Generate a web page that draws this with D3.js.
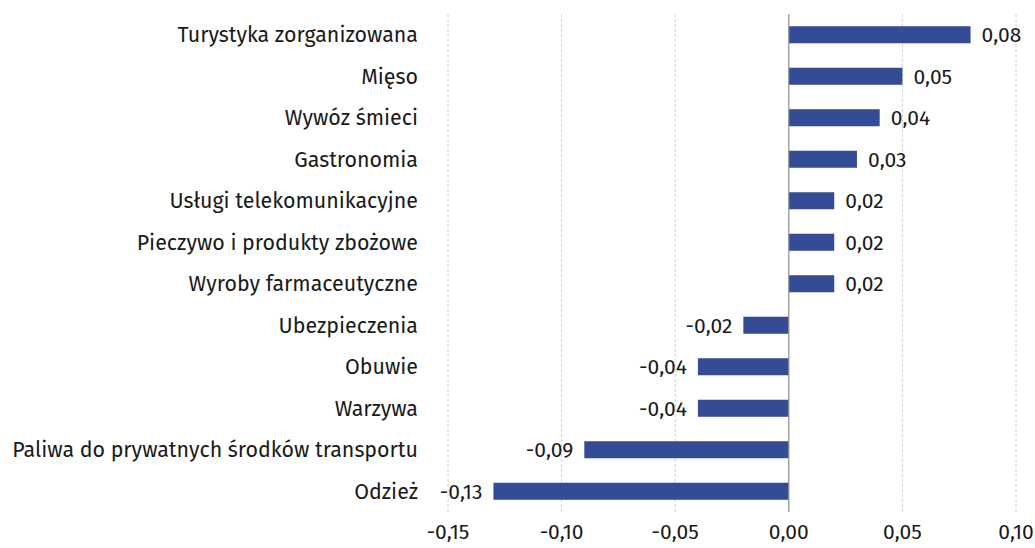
<!DOCTYPE html>
<html>
<head>
<meta charset="utf-8">
<script src="https://cdn.jsdelivr.net/npm/d3@7"></script>
<style>
  body { margin: 0; background: #fff; }
  text { font-family: "Fira Sans", "Noto Sans", sans-serif; fill: #1a1a1a; }
</style>
</head>
<body>
<div id="chart"></div>
<script>
const categories = [
  "Turystyka zorganizowana", "Mięso", "Wywóz śmieci", "Gastronomia",
  "Usługi telekomunikacyjne", "Pieczywo i produkty zbożowe", "Wyroby farmaceutyczne",
  "Ubezpieczenia", "Obuwie", "Warzywa", "Paliwa do prywatnych środków transportu", "Odzież"
];
const values = [0.08, 0.05, 0.04, 0.03, 0.02, 0.02, 0.02, -0.02, -0.04, -0.04, -0.09, -0.13];
const ticks = [-0.15, -0.10, -0.05, 0.00, 0.05, 0.10];

const width = 1035, height = 548;
const margin = {top: 14, right: 19, bottom: 36, left: 448};

const fmt = d3.format(".2f");
const plFmt = v => fmt(v).replace(".", ",").replace("\u2212", "-");

let svg = d3.select("#chart").append("svg")
    .attr("width", width)
    .attr("height", height);

let x = d3.scaleLinear()
    .domain([-0.15, 0.10])
    .range([margin.left, width - margin.right]);

let y = d3.scaleBand()
    .domain(categories)
    .range([margin.top, height - margin.bottom])
    .paddingInner(0.59)
    .paddingOuter(0.295);

// gridlines
svg.append("g").selectAll("line")
    .data(ticks.filter(t => t !== 0))
    .enter().append("line")
    .attr("x1", d => x(d)).attr("x2", d => x(d))
    .attr("y1", margin.top).attr("y2", height - margin.bottom)
    .attr("stroke", "#d0d0d0")
    .attr("stroke-dasharray", "3,2")
    .attr("stroke-width", 1);

// bars
svg.append("g").selectAll("rect")
    .data(values)
    .enter().append("rect")
    .attr("x", d => x(Math.min(0, d)))
    .attr("y", (d, i) => y(categories[i]))
    .attr("width", d => Math.abs(x(d) - x(0)))
    .attr("height", y.bandwidth())
    .attr("fill", "#344b95");

// zero line
svg.append("line")
    .attr("x1", x(0)).attr("x2", x(0))
    .attr("y1", margin.top).attr("y2", height - margin.bottom)
    .attr("stroke", "#8c8c8c")
    .attr("stroke-width", 1.2);

// value labels
svg.append("g").selectAll("text")
    .data(values)
    .enter().append("text")
    .attr("x", d => d >= 0 ? x(d) + 11 : x(d) - 11)
    .attr("y", (d, i) => y(categories[i]) + y.bandwidth() / 2)
    .attr("dy", "0.35em")
    .style("text-anchor", d => d >= 0 ? "start" : "end")
    .style("font-size", "21px")
    .text(d => plFmt(d));

// category labels
svg.append("g").selectAll("text")
    .data(categories)
    .enter().append("text")
    .attr("x", 418)
    .attr("y", d => y(d) + y.bandwidth() / 2)
    .attr("dy", "0.35em")
    .style("text-anchor", "end")
    .style("font-size", "21.4px")
    .text(d => d);

// x tick labels
svg.append("g").selectAll("text")
    .data(ticks)
    .enter().append("text")
    .attr("x", d => x(d))
    .attr("y", 532)
    .attr("dy", "0.35em")
    .style("text-anchor", "middle")
    .style("font-size", "21px")
    .text(d => plFmt(d));
</script>
</body>
</html>
